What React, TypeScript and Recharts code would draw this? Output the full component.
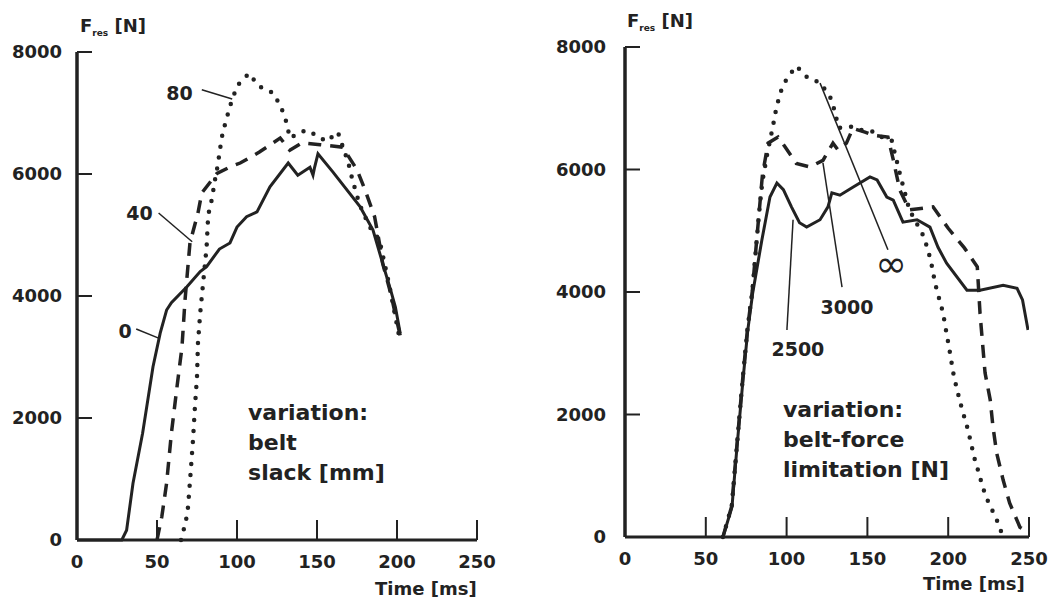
import React from "react";
import {
  LineChart,
  Line,
  XAxis,
  YAxis,
  ReferenceLine,
  ReferenceDot,
} from "recharts";

// belt slack variation (left panel), time in ms, force in N
const SLACK_0_TIME = [0, 28, 31, 35, 41, 47.5, 52, 56, 59, 68.7, 77, 81, 89, 95.6, 100, 106, 112.5, 120.6, 132, 138, 145.6, 147.5, 148.5, 150.6, 160, 177, 185, 191, 196, 199, 202];
const SLACK_0_FORCE = [0, 0, 160, 930, 1750, 2840, 3390, 3770, 3890, 4150, 4400, 4480, 4770, 4870, 5130, 5300, 5380, 5790, 6180, 5980, 6110, 5980, 6110, 6330, 6030, 5460, 5080, 4540, 4100, 3820, 3390];

const SLACK_40_TIME = [50, 53, 56, 59, 62.5, 65.6, 67.5, 70.6, 75.6, 78, 87.5, 96, 102, 114, 127, 133, 140.6, 152, 166, 175, 180, 186, 189, 191, 196, 202];
const SLACK_40_FORCE = [0, 380, 930, 1750, 2510, 3160, 3930, 4870, 5360, 5690, 6010, 6120, 6180, 6360, 6590, 6390, 6510, 6480, 6440, 6070, 5740, 5300, 4870, 4540, 4050, 3350];

const SLACK_80_TIME = [65, 68, 69.4, 71, 72.5, 73.7, 75, 75.6, 77, 79, 81, 82, 84.4, 86, 88, 89.4, 91, 93.7, 97, 100.6, 107.5, 113.7, 122.5, 127.5, 131, 133, 143, 149.4, 156, 163, 169.6, 172, 175, 178, 183, 189, 195, 202];
const SLACK_80_FORCE = [0, 300, 540, 1100, 1640, 2180, 2670, 3230, 3720, 4260, 4800, 5330, 5600, 5870, 6150, 6410, 6670, 6930, 7230, 7460, 7650, 7440, 7330, 7100, 6840, 6590, 6720, 6640, 6530, 6690, 6180, 5920, 5640, 5410, 5130, 4920, 4200, 3250];

// belt-force limitation variation (right panel)
const LIMIT_2500_TIME = [60.6, 66.2, 69.3, 73, 76, 79, 84.7, 89.7, 94, 98, 103, 108, 112.4, 120.7, 125.6, 128, 133, 141, 151.6, 156, 162, 166, 172, 180.7, 188.7, 193.7, 199, 211.6, 219.7, 234, 242.6, 246, 249.4];
const LIMIT_2500_FORCE = [0, 490, 1470, 2560, 3380, 3980, 4850, 5550, 5780, 5670, 5390, 5130, 5060, 5180, 5390, 5620, 5580, 5710, 5880, 5830, 5550, 5500, 5140, 5180, 5060, 4730, 4470, 4030, 4030, 4110, 4060, 3870, 3380];

const LIMIT_3000_TIME = [60.6, 66, 69.2, 72.8, 75.8, 78.8, 81, 83, 85, 88.5, 94.7, 99, 106, 114.5, 122.5, 128.7, 131.8, 137, 141, 148.5, 153.5, 162.7, 166, 170, 176, 190.6, 200, 210, 218, 219.7, 222.8, 226, 227.7, 230, 234, 238, 244.4, 249.4];
const LIMIT_3000_FORCE = [0, 500, 1480, 2570, 3400, 4020, 4700, 5300, 5900, 6430, 6530, 6370, 6100, 6040, 6150, 6430, 6320, 6430, 6670, 6610, 6560, 6530, 6160, 5670, 5340, 5390, 5040, 4720, 4410, 3650, 2680, 2240, 1800, 1370, 930, 555, 160, 80];

const LIMIT_INF_TIME = [60.6, 66, 69.2, 72.8, 75.8, 78.8, 81, 83, 85, 88, 91.5, 93.4, 96, 100, 106, 112.6, 121, 127, 130, 132, 141, 147, 153.5, 159, 165, 170, 176, 184.4, 187.5, 190, 191.8, 194.3, 196.8, 198.6, 200.5, 202, 203.6, 206, 208.5, 211.6, 214, 216, 219, 221.5, 225, 229.6, 234];
const LIMIT_INF_FORCE = [0, 500, 1480, 2570, 3400, 4020, 4700, 5300, 5800, 6250, 6700, 6970, 7250, 7480, 7690, 7510, 7410, 7180, 6940, 6680, 6700, 6640, 6620, 6530, 6480, 5940, 5340, 4930, 4690, 4410, 4150, 3900, 3660, 3380, 3100, 2860, 2610, 2350, 2090, 1810, 1550, 1310, 1040, 800, 555, 310, 0];

const X_TICKS = [0, 50, 100, 150, 200, 250];
const Y_TICKS = [0, 2000, 4000, 6000, 8000];

const SLACK_NOTE = ["variation:", "belt", "slack [mm]"];
const LIMIT_NOTE = ["variation:", "belt-force", "limitation [N]"];

const INK = "#222";
const FONT = "'DejaVu Sans', sans-serif";

const zip = (time: number[], force: number[]) =>
  time.map((t, i) => ({ t, f: force[i] }));

function makeYTick(gap: number) {
  return function YTick(props: any) {
    const { x, y, payload } = props;
    return (
      <g>
        <line x1={x} x2={x + 15} y1={y} y2={y} stroke={INK} strokeWidth={2} />
        <text
          x={x - gap}
          y={y}
          dy="0.36em"
          textAnchor="end"
          fontFamily={FONT}
          fontWeight={700}
          fontSize={18}
          fill={INK}
        >
          {payload.value}
        </text>
      </g>
    );
  };
}

function XTick(props: any) {
  const { x, y, payload } = props;
  return (
    <g>
      <line x1={x} x2={x} y1={y} y2={y - 20} stroke={INK} strokeWidth={2} />
      <text
        x={x}
        y={y + 28}
        textAnchor="middle"
        fontFamily={FONT}
        fontWeight={700}
        fontSize={18}
        fill={INK}
      >
        {payload.value}
      </text>
    </g>
  );
}

const textAt =
  (lines: string[], size: number, anchor: "start" | "middle", weight = 700) =>
  (props: any) => {
    const { viewBox } = props;
    return (
      <text
        x={viewBox.x}
        y={viewBox.y}
        textAnchor={anchor}
        fontFamily={FONT}
        fontWeight={weight}
        fontSize={size}
        fill={INK}
      >
        {lines.map((s, i) => (
          <tspan key={i} x={viewBox.x} dy={i === 0 ? (anchor === "middle" ? "0.36em" : 0) : 30}>
            {s}
          </tspan>
        ))}
      </text>
    );
  };

const solid = { stroke: INK, strokeWidth: 3, dot: false, isAnimationActive: false } as const;
const dashed = { ...solid, strokeWidth: 3.5, strokeDasharray: "13 9" };
const dotted = { ...solid, strokeWidth: 4.5, strokeDasharray: "0 11", strokeLinecap: "round" as const };

const leader = { stroke: INK, strokeWidth: 1.5 };

function AxisTitles({ fx, fy, tx, ty }: { fx: number; fy: number; tx: number; ty: number }) {
  const style: React.CSSProperties = {
    position: "absolute",
    fontFamily: FONT,
    fontWeight: 700,
    fontSize: 18,
    color: INK,
    whiteSpace: "nowrap",
    lineHeight: 1,
  };
  return (
    <>
      <div style={{ ...style, left: fx, top: fy }}>
        F<span style={{ fontSize: 9, position: "relative", top: 4 }}>res</span> [N]
      </div>
      <div style={{ ...style, left: tx, top: ty }}>Time [ms]</div>
    </>
  );
}

export default function App() {
  return (
    <div style={{ position: "absolute", left: 0, top: 0, width: 1054, height: 602, background: "#fff" }}>
      <div style={{ position: "absolute", left: 0, top: 0 }}>
        <LineChart width={520} height={602} margin={{ top: 52, right: 43, bottom: 32, left: 0 }}>
          <XAxis
            type="number"
            dataKey="t"
            domain={[0, 250]}
            ticks={X_TICKS}
            height={30}
            tickSize={0}
            tickMargin={0}
            tickLine={false}
            tick={XTick}
            axisLine={{ stroke: INK, strokeWidth: 3 }}
            allowDataOverflow
          />
          <YAxis
            type="number"
            domain={[0, 8000]}
            ticks={Y_TICKS}
            width={77}
            tickSize={0}
            tickMargin={0}
            tickLine={false}
            tick={makeYTick(15)}
            axisLine={{ stroke: INK, strokeWidth: 3.5 }}
          />
          <Line data={zip(SLACK_0_TIME, SLACK_0_FORCE)} dataKey="f" {...solid} />
          <Line data={zip(SLACK_40_TIME, SLACK_40_FORCE)} dataKey="f" {...dashed} />
          <Line data={zip(SLACK_80_TIME, SLACK_80_FORCE)} dataKey="f" {...dotted} />
          <ReferenceLine segment={[{ x: 78, y: 7380 }, { x: 97, y: 7230 }]} {...leader} />
          <ReferenceLine segment={[{ x: 51, y: 5360 }, { x: 72, y: 4890 }]} {...leader} />
          <ReferenceLine segment={[{ x: 37, y: 3460 }, { x: 51, y: 3310 }]} {...leader} />
          <ReferenceDot x={64} y={7330} r={0} stroke="none" label={textAt(["80"], 19, "middle")} />
          <ReferenceDot x={39} y={5360} r={0} stroke="none" label={textAt(["40"], 19, "middle")} />
          <ReferenceDot x={30} y={3430} r={0} stroke="none" label={textAt(["0"], 19, "middle")} />
          <ReferenceDot x={106.9} y={1967} r={0} stroke="none" label={textAt(SLACK_NOTE, 22, "start")} />
        </LineChart>
      </div>
      <div style={{ position: "absolute", left: 530, top: 0 }}>
        <LineChart width={524} height={602} margin={{ top: 47, right: 25, bottom: 35, left: 0 }}>
          <XAxis
            type="number"
            dataKey="t"
            domain={[0, 250]}
            ticks={X_TICKS}
            height={30}
            tickSize={0}
            tickMargin={0}
            tickLine={false}
            tick={XTick}
            axisLine={{ stroke: INK, strokeWidth: 3 }}
            allowDataOverflow
          />
          <YAxis
            type="number"
            domain={[0, 8000]}
            ticks={Y_TICKS}
            width={95}
            tickSize={0}
            tickMargin={0}
            tickLine={false}
            tick={makeYTick(19)}
            axisLine={{ stroke: INK, strokeWidth: 3.5 }}
          />
          <Line data={zip(LIMIT_2500_TIME, LIMIT_2500_FORCE)} dataKey="f" {...solid} />
          <Line data={zip(LIMIT_3000_TIME, LIMIT_3000_FORCE)} dataKey="f" {...dashed} />
          <Line data={zip(LIMIT_INF_TIME, LIMIT_INF_FORCE)} dataKey="f" {...dotted} />
          <ReferenceLine segment={[{ x: 120.7, y: 7410 }, { x: 162.7, y: 4690 }]} {...leader} />
          <ReferenceLine segment={[{ x: 122.5, y: 6110 }, { x: 134.3, y: 4080 }]} {...leader} />
          <ReferenceLine segment={[{ x: 104, y: 5180 }, { x: 100.2, y: 3380 }]} {...leader} />
          <ReferenceDot x={164.6} y={4470} r={0} stroke="none" label={textAt(["∞"], 38, "middle", 400)} />
          <ReferenceDot x={137.4} y={3755} r={0} stroke="none" label={textAt(["3000"], 19, "middle")} />
          <ReferenceDot x={107} y={3070} r={0} stroke="none" label={textAt(["2500"], 19, "middle")} />
          <ReferenceDot x={97.8} y={1960} r={0} stroke="none" label={textAt(LIMIT_NOTE, 22, "start")} />
        </LineChart>
      </div>
      <AxisTitles fx={80} fy={17} tx={375} ty={580} />
      <div style={{ position: "absolute", left: 530, top: 0 }}>
        <AxisTitles fx={97} fy={12} tx={393} ty={575} />
      </div>
    </div>
  );
}
